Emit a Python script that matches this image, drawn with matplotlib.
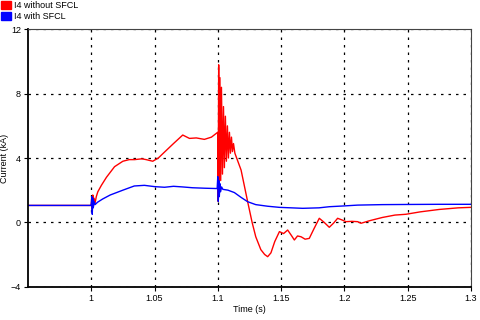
import numpy as np
import matplotlib
matplotlib.use("Agg")
import matplotlib.pyplot as plt
from matplotlib.patches import Patch

plt.rcParams['font.family'] = ['Liberation Sans', 'DejaVu Sans']

# I4 without SFCL (time in s, current in kA)
t_red = [0.95, 0.9995, 1.0000, 1.0004, 1.0008, 1.0012, 1.0017, 1.0022, 1.0030,
         1.0040, 1.0052, 1.0080, 1.0120, 1.0184, 1.0250, 1.0300, 1.0342, 1.0400,
         1.0434, 1.0486, 1.0530, 1.0579, 1.0650, 1.0723, 1.0776, 1.0830, 1.0894,
         1.0950, 1.0999, 1.1003, 1.1007, 1.1011, 1.1017, 1.1023, 1.1029, 1.1037,
         1.1045, 1.1052, 1.1060, 1.1068, 1.1076, 1.1084, 1.1092, 1.1100, 1.1108,
         1.1116, 1.1124, 1.1135, 1.1184, 1.1236, 1.1271, 1.1300, 1.1340, 1.1370,
         1.1394, 1.1420, 1.1450, 1.1487, 1.1520, 1.1552, 1.1580, 1.1605, 1.1630,
         1.1658, 1.1690, 1.1723, 1.1760, 1.1802, 1.1840, 1.1881, 1.1915, 1.1947,
         1.1980, 1.2013, 1.2060, 1.2105, 1.2132, 1.2200, 1.2300, 1.2400, 1.2487,
         1.2600, 1.2750, 1.2900, 1.3000]
i_red = [1.05, 1.05, 1.05, 1.6, 0.8, 1.7, 1.0, 1.5, 1.2,
         1.6, 1.9, 2.3, 2.8, 3.46, 3.8, 3.9, 3.9, 3.95,
         3.9, 3.8, 4.0, 4.37, 4.9, 5.43, 5.22, 5.25, 5.16,
         5.3, 5.6, 1.3, 9.8, 2.0, 9.0, 2.6, 8.4, 3.0,
         7.2, 3.4, 6.6, 3.8, 6.0, 4.0, 5.6, 4.3, 5.3,
         4.4, 4.9, 4.3, 3.25, 1.28, 0.0, -0.9, -1.7, -2.0,
         -2.14, -1.9, -1.2, -0.58, -0.7, -0.48, -0.8, -1.1, -0.85,
         -0.9, -1.05, -1.0, -0.4, 0.25, 0.0, -0.31, -0.05, 0.25,
         0.15, 0.04, 0.06, 0.04, -0.06, 0.1, 0.3, 0.45, 0.5,
         0.65, 0.8, 0.9, 0.93]

# I4 with SFCL
t_blue = [0.95, 0.9995, 1.0000, 1.0004, 1.0008, 1.0012, 1.0016, 1.0022, 1.0030,
          1.0050, 1.0090, 1.0150, 1.0250, 1.0340, 1.0420, 1.0500, 1.0579, 1.0650,
          1.0723, 1.0800, 1.0900, 1.0995, 1.1000, 1.1004, 1.1008, 1.1012, 1.1017,
          1.1022, 1.1030, 1.1040, 1.1080, 1.1131, 1.1184, 1.1236, 1.1300, 1.1394,
          1.1487, 1.1580, 1.1671, 1.1800, 1.1881, 1.2000, 1.2105, 1.2300, 1.2500,
          1.2750, 1.3000]
i_blue = [1.05, 1.05, 1.05, 1.6, 0.5, 1.5, 0.9, 1.3, 1.1,
          1.25, 1.45, 1.7, 2.0, 2.26, 2.3, 2.22, 2.18, 2.24,
          2.2, 2.15, 2.12, 2.1, 2.84, 1.3, 2.6, 1.6, 2.4,
          1.9, 2.2, 2.05, 2.0, 1.85, 1.55, 1.28, 1.1, 1.0,
          0.93, 0.9, 0.87, 0.9, 0.97, 1.02, 1.07, 1.1, 1.11,
          1.12, 1.12]

x_ticks = [1, 1.05, 1.1, 1.15, 1.2, 1.25, 1.3]
x_labels = ['1', '1.05', '1.1', '1.15', '1.2', '1.25', '1.3']
y_ticks = [-4, 0, 4, 8, 12]

fig = plt.figure(figsize=(4.8, 3.2), dpi=100)
ax = fig.add_axes([0.0583, 0.1044, 0.9227, 0.8036])

ax.plot(t_red, i_red, color='#ff0000', lw=1.0)
ax.plot(t_blue, i_blue, color='#0000ff', lw=1.0)

ax.set_xlim(0.95, 1.3)
ax.set_ylim(-4, 12)
ax.set_xticks(x_ticks)
ax.set_xticklabels(x_labels)
ax.set_yticks(y_ticks)
ax.tick_params(labelsize=6.5, length=3, width=0.8, pad=2)
ax.grid(True, color='black', linestyle=(0, (2, 4)), linewidth=0.9)

for s in ['left', 'bottom']:
    ax.spines[s].set_linewidth(1.3)
for s in ['top', 'right']:
    ax.spines[s].set_linewidth(0.8)
    ax.spines[s].set_color('#444444')

ax.set_xlabel('Time (s)', fontsize=6.5, labelpad=2)
ax.set_ylabel('Current (kA)', fontsize=6.5)
ax.yaxis.set_label_coords(-0.042, 0.5)

handles = [Patch(color='#ff0000', label='I4 without SFCL'),
           Patch(color='#0000ff', label='I4 with SFCL')]
fig.legend(handles=handles, loc='upper left', bbox_to_anchor=(0.0, 1.0),
           frameon=False, fontsize=6.5, handlelength=1.1, handleheight=0.9,
           handletextpad=0.3, labelspacing=0.25, borderpad=0.1,
           borderaxespad=0.0)

fig.savefig('out.png', dpi=100)
